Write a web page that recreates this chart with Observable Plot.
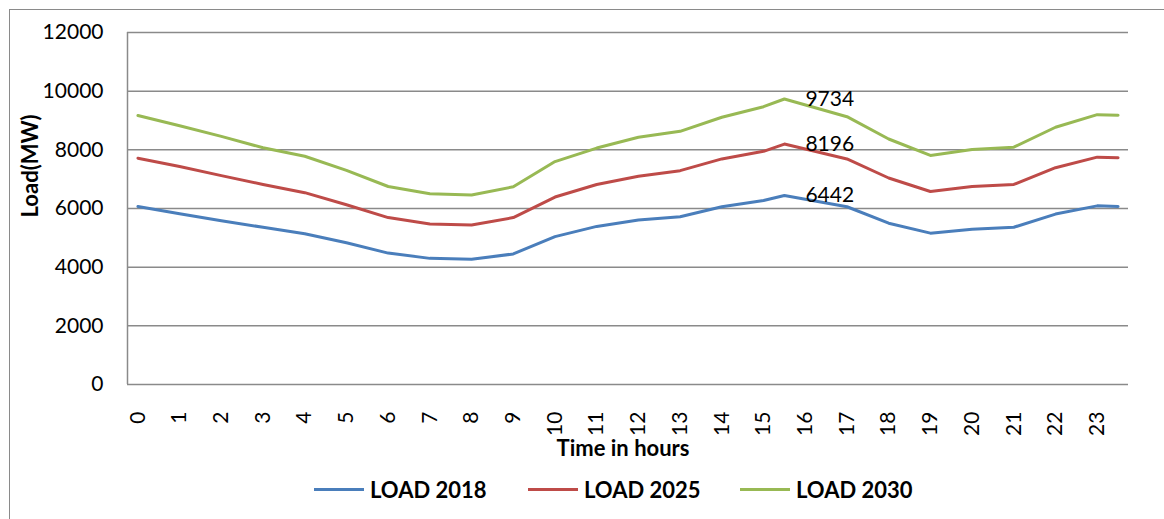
<!DOCTYPE html>
<html>
<head>
<meta charset="utf-8">
<script src="https://cdn.jsdelivr.net/npm/d3@7"></script>
<script src="https://cdn.jsdelivr.net/npm/@observablehq/plot@0.6"></script>
<style>
  html, body { margin: 0; padding: 0; background: #fff; overflow: hidden; }
  #wrap { position: relative; width: 1164px; height: 519px; font-family: Lato, "Open Sans", sans-serif; }
  #frame { position: absolute; left: 9px; top: 9px; width: 1300px; height: 600px; border-left: 1.5px solid #8a8a8a; border-top: 1.5px solid #8a8a8a; box-sizing: border-box; pointer-events: none; }
  #chart { position: absolute; left: 0; top: 0; }
  .leg { position: absolute; top: 476px; height: 26px; display: flex; align-items: center; font-weight: bold; font-size: 22px; color: #000; white-space: nowrap; }
  .sw { width: 50px; height: 3px; margin-right: 6px; }
</style>
</head>
<body>
<div id="wrap">
  <div id="frame"></div>
  <div id="chart"></div>
  <div id="legend"></div>
</div>
<script>
// Hours (x values); the peak occurs at 15.5 and the series end at 23.5
const hours    = [0, 1, 2, 3, 4, 5, 6, 7, 8, 9, 10, 11, 12, 13, 14, 15, 15.5, 17, 18, 19, 20, 21, 22, 23, 23.5];
const load2018 = [6070, 5820, 5580, 5360, 5140, 4830, 4480, 4300, 4270, 4450, 5040, 5390, 5610, 5720, 6060, 6270, 6442, 6060, 5500, 5160, 5290, 5360, 5810, 6090, 6070];
const load2025 = [7715, 7430, 7120, 6820, 6540, 6130, 5690, 5470, 5440, 5690, 6390, 6820, 7100, 7290, 7690, 7950, 8196, 7690, 7040, 6580, 6750, 6820, 7390, 7750, 7730];
const load2030 = [9170, 8820, 8460, 8070, 7780, 7300, 6750, 6500, 6460, 6740, 7600, 8060, 8430, 8630, 9110, 9470, 9734, 9130, 8370, 7810, 8010, 8090, 8770, 9200, 9180];
const seriesNames = ["LOAD 2018", "LOAD 2025", "LOAD 2030"];
const seriesColors = ["#4A7EBB", "#BE4B48", "#98B954"];
const xTickLabels = d3.range(0, 24);
const yTicks = [0, 2000, 4000, 6000, 8000, 10000, 12000];
const peakHour = 15.5;

const allSeries = [load2018, load2025, load2030];
const rows = [];
allSeries.forEach((vals, si) => {
  hours.forEach((h, i) => rows.push({hour: h, load: vals[i], series: seriesNames[si]}));
});
const peaks = allSeries.map((vals, si) => ({hour: peakHour, load: vals[hours.indexOf(peakHour)], series: seriesNames[si]}));

const grid = "#8a8a8a";
const plot = Plot.plot({
  width: 1164,
  height: 470,
  marginLeft: 127,
  marginRight: 36,
  marginTop: 32,
  marginBottom: 86,
  style: {fontFamily: "Lato, 'Open Sans', sans-serif", fontSize: "21px", color: "#000", background: "transparent", overflow: "visible"},
  x: {type: "linear", domain: [-0.25, 23.75]},
  y: {domain: [0, 12000]},
  color: {domain: seriesNames, range: seriesColors},
  marks: [
    Plot.ruleY(yTicks, {stroke: grid, strokeWidth: 1.5}),
    Plot.ruleX([-0.25], {stroke: grid, strokeWidth: 1.5}),
    Plot.axisY({ticks: yTicks, tickSize: 0, tickPadding: 24, tickFormat: d3.format("d"), label: null, fontSize: 21, fill: "#000"}),
    Plot.axisX({ticks: xTickLabels, tickSize: 0, tickPadding: 27, tickRotate: -90, tickFormat: d => String(d), label: null, fontSize: 21, fill: "#000"}),
    Plot.line(rows, {x: "hour", y: "load", z: "series", stroke: "series", strokeWidth: 3, strokeLinejoin: "round", strokeLinecap: "round"}),
    Plot.text(peaks, {x: "hour", y: "load", text: d => String(d.load), textAnchor: "start", dx: 21, fontSize: 21, fill: "#000"}),
    Plot.text(["Time in hours"], {frameAnchor: "bottom", lineAnchor: "middle", dx: -5, dy: 64, fontWeight: "bold", fontSize: 22, fill: "#000"}),
    Plot.text(["Load(MW)"], {frameAnchor: "left", dx: -97, dy: 9, rotate: -90, fontWeight: "bold", fontSize: 22, fill: "#000"})
  ]
});
document.getElementById("chart").appendChild(plot);

const legend = document.getElementById("legend");
const legendLeft = [314, 528, 740];
seriesNames.forEach((name, i) => {
  const item = document.createElement("div");
  item.className = "leg";
  item.style.left = legendLeft[i] + "px";
  const sw = document.createElement("div");
  sw.className = "sw";
  sw.style.background = seriesColors[i];
  const t = document.createElement("span");
  t.textContent = name;
  item.appendChild(sw);
  item.appendChild(t);
  legend.appendChild(item);
});
</script>
</body>
</html>
